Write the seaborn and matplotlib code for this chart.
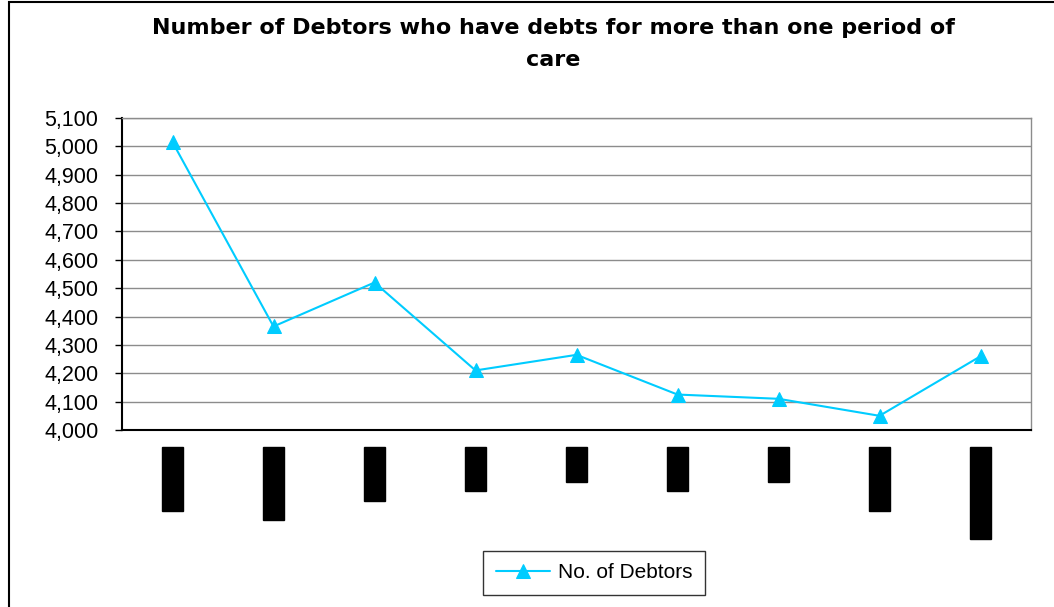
import numpy as np
import pandas as pd
import seaborn as sns
import matplotlib.pyplot as plt
from matplotlib.patches import Rectangle

# data (category labels are redacted in the source)
x_labels = ['Jan-06', 'Apr-Jun', 'Jul06', 'Oct.', 'Jan', 'Apr.', 'Jul', 'Oct-06', 'Jan-Mar07']
debtors = [5015, 4365, 4520, 4210, 4265, 4125, 4110, 4050, 4260]
y_ticks = list(range(4000, 5101, 100))

df = pd.DataFrame({'pos': np.arange(len(x_labels)), 'debtors': debtors})

sns.set_style('white')
plt.rcParams['font.family'] = ['Liberation Sans', 'DejaVu Sans']
plt.rcParams['text.color'] = 'black'
plt.rcParams['xtick.color'] = 'black'
plt.rcParams['ytick.color'] = 'black'

fig = plt.figure(figsize=(10.54, 6.07), dpi=100)
ax = fig.add_axes([122 / 1054, 1 - 430 / 607, (1031 - 122) / 1054, (430 - 118) / 607])

sns.lineplot(data=df, x='pos', y='debtors', ax=ax, color='#00CCFF',
             marker='^', markersize=10, markeredgecolor='#00CCFF',
             linewidth=1.5, label='No. of Debtors', legend=False)

ax.set_xlim(-0.5, len(x_labels) - 0.5)
ax.set_ylim(4000, 5100)
ax.set_yticks(y_ticks)
ax.set_yticklabels([f'{v:,}' for v in y_ticks], fontsize=15.5)
ax.yaxis.grid(True, color='#8c8c8c', linewidth=1)
ax.set_xlabel('')
ax.set_ylabel('')

# category labels, blacked out as in the source
ax.set_xticks(np.arange(len(x_labels)))
ax.set_xticklabels(x_labels, rotation=90, fontsize=11.5, family='DejaVu Sans Mono',
                   color='black', va='top', ha='center')
for t in ax.get_xticklabels():
    t.set_bbox(dict(facecolor='black', edgecolor='black', pad=2))
ax.tick_params(axis='x', which='major', length=0, pad=14.5)
ax.set_xticks(np.arange(len(x_labels) + 1) - 0.5, minor=True)
ax.tick_params(axis='x', which='minor', length=12, direction='inout', width=1, color='black')
ax.tick_params(axis='y', length=5, direction='out', width=1, color='black', left=True, pad=12)

for side in ['left', 'bottom']:
    ax.spines[side].set_color('black')
    ax.spines[side].set_linewidth(1.5)
for side in ['top', 'right']:
    ax.spines[side].set_color('#8c8c8c')
    ax.spines[side].set_linewidth(1)

fig.text(553 / 1054, 1 - 44 / 607,
         'Number of Debtors who have debts for more than one period of\ncare',
         ha='center', va='center', fontsize=16, fontweight='bold', linespacing=1.8,
         family='DejaVu Sans')

handles, labels = ax.get_legend_handles_labels()
leg = fig.legend(handles, labels, loc='center', bbox_to_anchor=(594 / 1054, 1 - 573 / 607),
                 fontsize=15, frameon=True, fancybox=False, handlelength=2.6,
                 handletextpad=0.4, borderpad=0.6)
leg.get_frame().set_edgecolor('black')
leg.get_frame().set_linewidth(1)

fig.patches.append(Rectangle((9 / 1054, -0.1), 1.2, 1.1 - 1.5 / 607, transform=fig.transFigure,
                             fill=False, edgecolor='black', linewidth=1.5))

fig.savefig('out.png', dpi=100)
